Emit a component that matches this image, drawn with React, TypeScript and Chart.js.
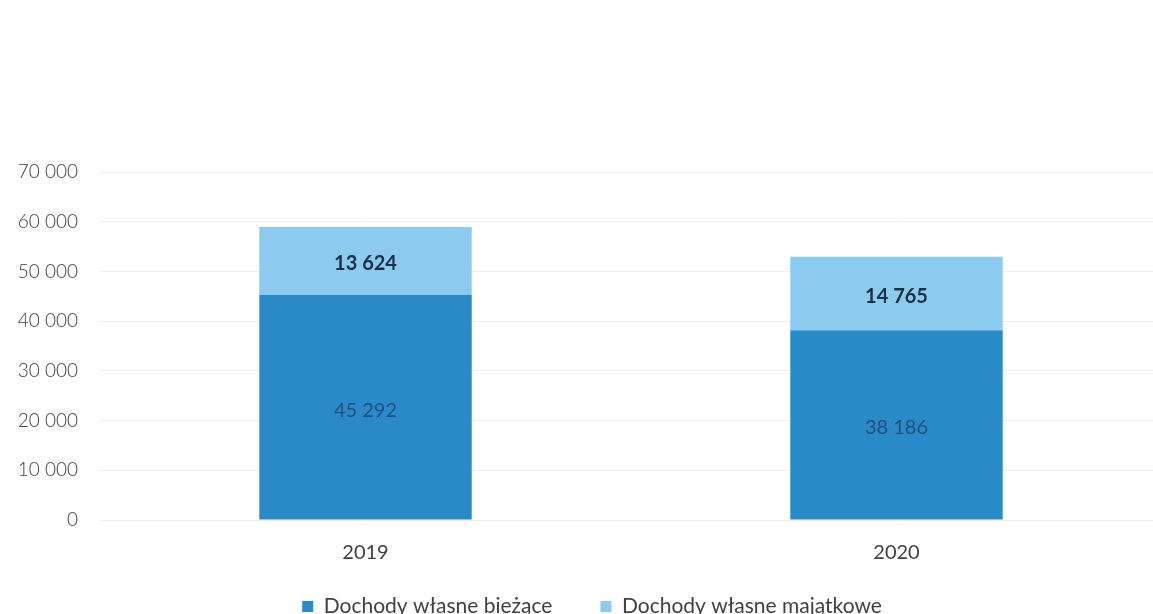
import React, { useEffect, useRef } from "react";
import { Chart, registerables } from "chart.js";

Chart.register(...registerables);

const categories = ["2019", "2020"];
const currentIncome = [45292, 38186];
const propertyIncome = [13624, 14765];
const seriesNames = ["Dochody własne bieżące", "Dochody własne majątkowe"];
const yTicks = [0, 10000, 20000, 30000, 40000, 50000, 60000, 70000];

const fmt = (v: number) => String(Math.round(v)).replace(/\B(?=(\d{3})+(?!\d))/g, " ");

const labelPlugin = {
  id: "barLabels",
  afterDatasetsDraw(chart: any) {
    const ctx = chart.ctx;
    chart.data.datasets.forEach((ds: any, di: number) => {
      const meta = chart.getDatasetMeta(di);
      meta.data.forEach((bar: any, i: number) => {
        const v = ds.data[i];
        const y = (bar.y + bar.base) / 2 + 3;
        ctx.save();
        ctx.textAlign = "center";
        ctx.textBaseline = "middle";
        if (di === 0) {
          ctx.font = "400 20px Lato";
          ctx.fillStyle = "#1f4f7e";
        } else {
          ctx.font = "700 20px Lato";
          ctx.fillStyle = "#1b2f45";
        }
        ctx.fillText(fmt(v), bar.x, y);
        ctx.restore();
      });
    });
  },
};

// nudges the legend block closer to the x axis (layout only)
const legendShift = {
  id: "legendShift",
  afterLayout(chart: any) {
    const lg = chart.legend;
    if (!lg) return;
    const dy = -38;
    const dx = 11;
    lg.top += dy;
    lg.bottom += dy;
    lg.left += dx;
    lg.right += dx;
  },
};

export default function App() {
  const ref = useRef<HTMLCanvasElement>(null);
  useEffect(() => {
    document.documentElement.style.overflow = "hidden";
    if (!ref.current) return;
    const chart = new Chart(ref.current, {
      type: "bar",
      data: {
        labels: categories,
        datasets: [
          {
            label: seriesNames[0],
            data: currentIncome,
            backgroundColor: "#2a8ac8",
            barPercentage: 0.8,
            categoryPercentage: 0.5,
          },
          {
            label: seriesNames[1],
            data: propertyIncome,
            backgroundColor: "#8ccbee",
            barPercentage: 0.8,
            categoryPercentage: 0.5,
          },
        ],
      },
      options: {
        animation: false,
        responsive: true,
        maintainAspectRatio: false,
        layout: { padding: { top: 172, right: 0, bottom: -51, left: 0 } },
        plugins: {
          legend: {
            position: "bottom",
            labels: {
              boxWidth: 11,
              boxHeight: 11,
              padding: 48,
              color: "#404040",
              font: { family: "Lato", size: 21 },
            },
          },
          tooltip: { enabled: false },
          title: { display: false },
        },
        scales: {
          x: {
            stacked: true,
            grid: { display: false, drawTicks: false },
            border: { display: false },
            ticks: { color: "#404040", font: { family: "Lato", size: 20 }, padding: 21 },
          },
          y: {
            stacked: true,
            min: 0,
            max: 70000,
            afterBuildTicks: (scale: any) => {
              scale.ticks = yTicks.map((v) => ({ value: v }));
            },
            afterFit: (scale: any) => {
              scale.width = 100;
            },
            grid: { color: "#ededed", drawTicks: false },
            border: { display: false },
            ticks: {
              color: "#404040",
              font: { family: "Lato", size: 19, weight: "300" },
              padding: 22,
              callback: (v: any) => fmt(Number(v)),
            },
          },
        },
      },
      plugins: [labelPlugin, legendShift],
    });
    return () => chart.destroy();
  }, []);
  return (
    <div style={{ position: "fixed", left: 0, top: 0, width: 1162, height: 614, background: "#fff" }}>
      <canvas ref={ref} />
    </div>
  );
}
